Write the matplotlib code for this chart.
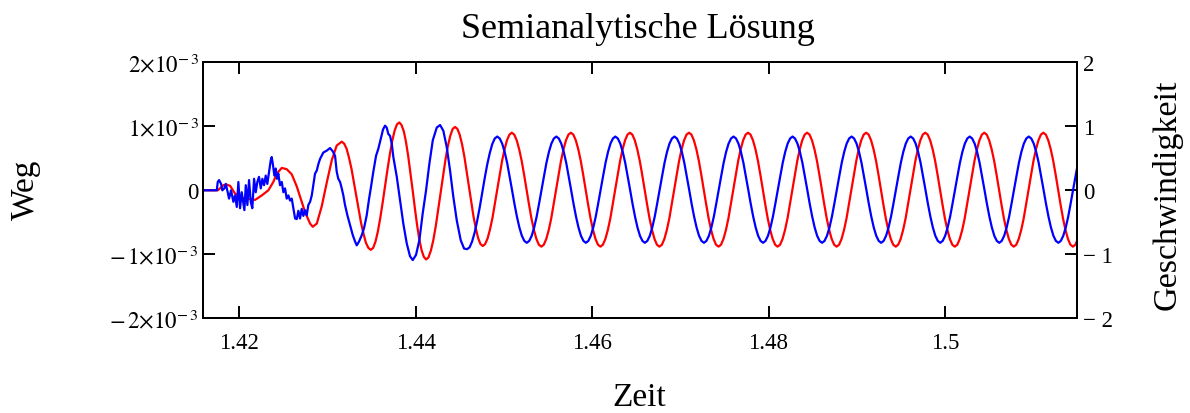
import numpy as np
import matplotlib
matplotlib.use("Agg")
import matplotlib.pyplot as plt

# Semianalytische Loesung: Weg (rot, links) und Geschwindigkeit (blau, rechts)
# Zeiten in ms, Weg in 1e-3 Einheiten, alles

weg_t_ms = [
    1415.88, 1417.55, 1417.81, 1418.19, 1418.55, 1418.95, 1419.51, 1420.27, 1421.02, 1421.78,
    1422.54, 1423.29, 1423.85, 1424.24, 1424.81, 1425.37, 1425.94, 1426.51, 1427.07, 1427.45,
    1428.02, 1428.32, 1428.78, 1429.34, 1429.91, 1430.48, 1431.04, 1431.61,
    1431.88, 1432.16, 1432.43, 1432.71, 1432.98, 1433.26, 1433.53, 1433.80, 1434.08, 1434.35, 1434.63, 1434.90,
    1435.17, 1435.44, 1435.71, 1435.98, 1436.25, 1436.52, 1436.79, 1437.06, 1437.33, 1437.60, 1437.87, 1438.14,
    1438.39, 1438.65, 1438.90, 1439.15, 1439.40, 1439.66, 1439.91, 1440.16, 1440.41, 1440.67, 1440.92, 1441.17,
    1441.44, 1441.72, 1441.99, 1442.27, 1442.54, 1442.81, 1443.09, 1443.36, 1443.64, 1443.91, 1444.19, 1444.46,
    1444.72, 1444.98, 1445.25, 1445.51, 1445.77, 1446.03, 1446.29, 1446.55, 1446.82, 1447.08, 1447.34, 1447.60,
    1447.87, 1448.15, 1448.42, 1448.70, 1448.97, 1449.24, 1449.52, 1449.79, 1450.07, 1450.34, 1450.62, 1450.89,
    1451.17, 1451.45, 1451.73, 1452.01, 1452.29, 1452.56, 1452.84, 1453.12, 1453.40, 1453.68, 1453.96, 1454.24,
    1454.52, 1454.80, 1455.08, 1455.36, 1455.63, 1455.91, 1456.19, 1456.47, 1456.75, 1457.03, 1457.31, 1457.59,
    1457.87, 1458.15, 1458.43, 1458.71, 1458.99, 1459.26, 1459.54, 1459.82, 1460.10, 1460.38, 1460.66, 1460.94,
    1461.22, 1461.50, 1461.78, 1462.06, 1462.33, 1462.61, 1462.89, 1463.17, 1463.45, 1463.73, 1464.01, 1464.28,
    1464.56, 1464.84, 1465.12, 1465.40, 1465.68, 1465.95, 1466.23, 1466.51, 1466.79, 1467.07, 1467.35, 1467.63,
    1467.91, 1468.19, 1468.47, 1468.75, 1469.02, 1469.30, 1469.58, 1469.86, 1470.14, 1470.42, 1470.70, 1470.98,
    1471.26, 1471.54, 1471.82, 1472.10, 1472.38, 1472.65, 1472.93, 1473.21, 1473.49, 1473.77, 1474.05, 1474.33,
    1474.61, 1474.89, 1475.17, 1475.45, 1475.72, 1476.00, 1476.28, 1476.56, 1476.84, 1477.12, 1477.40, 1477.68,
    1477.96, 1478.24, 1478.52, 1478.80, 1479.08, 1479.35, 1479.63, 1479.91, 1480.19, 1480.47, 1480.75, 1481.03,
    1481.31, 1481.59, 1481.87, 1482.15, 1482.42, 1482.70, 1482.98, 1483.26, 1483.54, 1483.82, 1484.10, 1484.37,
    1484.65, 1484.93, 1485.21, 1485.49, 1485.77, 1486.04, 1486.32, 1486.60, 1486.88, 1487.16, 1487.44, 1487.72,
    1488.00, 1488.28, 1488.56, 1488.84, 1489.11, 1489.39, 1489.67, 1489.95, 1490.23, 1490.51, 1490.79, 1491.07,
    1491.35, 1491.63, 1491.91, 1492.19, 1492.47, 1492.74, 1493.02, 1493.30, 1493.58, 1493.86, 1494.14, 1494.42,
    1494.70, 1494.98, 1495.26, 1495.54, 1495.81, 1496.09, 1496.37, 1496.65, 1496.93, 1497.21, 1497.49, 1497.77,
    1498.05, 1498.33, 1498.61, 1498.89, 1499.17, 1499.44, 1499.72, 1500.00, 1500.28, 1500.56, 1500.84, 1501.12,
    1501.40, 1501.68, 1501.96, 1502.24, 1502.51, 1502.79, 1503.07, 1503.35, 1503.63, 1503.91, 1504.19, 1504.46,
    1504.74, 1505.02, 1505.30, 1505.58, 1505.86, 1506.13, 1506.41, 1506.69, 1506.97, 1507.25, 1507.53, 1507.81,
    1508.09, 1508.37, 1508.65, 1508.93, 1509.20, 1509.48, 1509.76, 1510.04, 1510.32, 1510.60, 1510.88, 1511.16,
    1511.44, 1511.72, 1512.00, 1512.28, 1512.56, 1512.83, 1513.11, 1513.39, 1513.67, 1513.95, 1514.23, 1514.51,
    1514.79, 1515.01,
]
weg_e3 = [
    0.00, 0.00, 0.03, 0.08, 0.09, 0.07, -0.05, -0.12, -0.13, -0.15,
    -0.08, 0.00, 0.13, 0.26, 0.35, 0.33, 0.25, 0.06, -0.18, -0.34,
    -0.52, -0.57, -0.52, -0.25, 0.12, 0.47, 0.70, 0.76,
    0.73, 0.65, 0.51, 0.34, 0.13, -0.09, -0.30, -0.51, -0.68, -0.82, -0.90, -0.93,
    -0.90, -0.80, -0.64, -0.43, -0.19, 0.07, 0.32, 0.56, 0.77, 0.93, 1.03, 1.06,
    1.02, 0.92, 0.75, 0.53, 0.27, -0.01, -0.29, -0.55, -0.77, -0.94, -1.04, -1.08,
    -1.05, -0.94, -0.78, -0.56, -0.31, -0.05, 0.22, 0.47, 0.69, 0.85, 0.96, 0.99,
    0.96, 0.87, 0.72, 0.53, 0.30, 0.06, -0.18, -0.41, -0.60, -0.75, -0.84, -0.87,
    -0.84, -0.75, -0.61, -0.43, -0.21, 0.02, 0.24, 0.46, 0.64, 0.78, 0.87, 0.90,
    0.87, 0.78, 0.64, 0.46, 0.24, 0.01, -0.22, -0.44, -0.62, -0.76, -0.85, -0.88,
    -0.85, -0.76, -0.62, -0.44, -0.22, 0.01, 0.24, 0.46, 0.64, 0.78, 0.87, 0.90,
    0.87, 0.78, 0.64, 0.46, 0.24, 0.01, -0.22, -0.44, -0.62, -0.76, -0.85, -0.88,
    -0.85, -0.76, -0.62, -0.44, -0.22, 0.01, 0.24, 0.46, 0.64, 0.78, 0.87, 0.90,
    0.87, 0.78, 0.64, 0.46, 0.24, 0.01, -0.22, -0.44, -0.62, -0.76, -0.85, -0.88,
    -0.85, -0.76, -0.62, -0.44, -0.22, 0.01, 0.24, 0.46, 0.64, 0.78, 0.87, 0.90,
    0.87, 0.78, 0.64, 0.46, 0.24, 0.01, -0.22, -0.44, -0.62, -0.76, -0.85, -0.88,
    -0.85, -0.76, -0.62, -0.44, -0.22, 0.01, 0.24, 0.46, 0.64, 0.78, 0.87, 0.90,
    0.87, 0.78, 0.64, 0.46, 0.24, 0.01, -0.22, -0.44, -0.62, -0.76, -0.85, -0.88,
    -0.85, -0.76, -0.62, -0.44, -0.22, 0.01, 0.24, 0.46, 0.64, 0.78, 0.87, 0.90,
    0.87, 0.78, 0.64, 0.46, 0.24, 0.01, -0.22, -0.44, -0.62, -0.76, -0.85, -0.88,
    -0.85, -0.76, -0.62, -0.44, -0.22, 0.01, 0.24, 0.46, 0.64, 0.78, 0.87, 0.90,
    0.87, 0.78, 0.64, 0.46, 0.24, 0.01, -0.22, -0.44, -0.62, -0.76, -0.85, -0.88,
    -0.85, -0.76, -0.62, -0.44, -0.22, 0.01, 0.24, 0.46, 0.64, 0.78, 0.87, 0.90,
    0.87, 0.78, 0.64, 0.46, 0.24, 0.01, -0.22, -0.44, -0.62, -0.76, -0.85, -0.88,
    -0.85, -0.76, -0.62, -0.44, -0.22, 0.01, 0.24, 0.46, 0.64, 0.78, 0.87, 0.90,
    0.87, 0.78, 0.64, 0.46, 0.24, 0.01, -0.22, -0.44, -0.62, -0.76, -0.85, -0.88,
    -0.85, -0.76, -0.62, -0.44, -0.22, 0.01, 0.24, 0.46, 0.64, 0.78, 0.87, 0.90,
    0.87, 0.78, 0.64, 0.46, 0.24, 0.01, -0.22, -0.44, -0.62, -0.76, -0.85, -0.88,
    -0.85, -0.78,
]

geschw_t_ms = [
    1415.88, 1417.44, 1417.55, 1417.70, 1417.93, 1418.07, 1418.30, 1418.46, 1418.68, 1418.83,
    1419.06, 1419.32, 1419.51, 1419.71, 1419.89, 1420.08, 1420.27, 1420.57, 1420.73, 1420.91,
    1421.10, 1421.29, 1421.47, 1421.67, 1421.86, 1422.04, 1422.23, 1422.43, 1422.61, 1422.80,
    1422.99, 1423.17, 1423.37, 1423.56, 1423.67, 1423.82, 1423.97, 1424.13, 1424.27, 1424.42,
    1424.61, 1424.81, 1424.99, 1425.18, 1425.37, 1425.56, 1425.75, 1425.94, 1426.12, 1426.32,
    1426.51, 1426.69, 1426.88, 1427.07, 1427.26, 1427.45, 1427.64, 1427.82, 1428.02, 1428.21,
    1428.39, 1428.58, 1428.78, 1428.96, 1429.15, 1429.34, 1429.52, 1429.91, 1430.28, 1430.59,
    1430.85, 1431.04, 1431.22, 1431.42, 1431.61, 1431.79, 1431.98, 1432.25, 1432.55, 1432.86,
    1433.12, 1433.31, 1433.57, 1433.88, 1434.14, 1434.44, 1434.71, 1434.90, 1435.19, 1435.50,
    1435.76, 1436.03, 1436.29, 1436.52, 1436.71, 1436.89, 1437.09, 1437.28, 1437.46, 1437.85,
    1438.22, 1438.59, 1438.98, 1439.35, 1439.66, 1440.03, 1440.41, 1440.79, 1441.17, 1441.54,
    1441.93, 1442.38, 1442.76, 1443.13, 1443.52, 1443.89, 1444.26, 1444.65, 1445.10, 1445.48,
    1445.82,
    1446.11, 1446.39, 1446.68, 1446.96, 1447.25, 1447.53, 1447.82, 1448.10, 1448.39, 1448.67, 1448.96, 1449.24,
    1449.52, 1449.80, 1450.08, 1450.36, 1450.64, 1450.91, 1451.19, 1451.47, 1451.75, 1452.03, 1452.31, 1452.59,
    1452.87, 1453.15, 1453.43, 1453.71, 1453.98, 1454.26, 1454.54, 1454.82, 1455.10, 1455.38, 1455.66, 1455.94,
    1456.22, 1456.50, 1456.78, 1457.06, 1457.34, 1457.61, 1457.89, 1458.17, 1458.45, 1458.73, 1459.01, 1459.29,
    1459.57, 1459.85, 1460.13, 1460.41, 1460.68, 1460.96, 1461.24, 1461.52, 1461.80, 1462.08, 1462.36, 1462.63,
    1462.91, 1463.19, 1463.47, 1463.75, 1464.03, 1464.30, 1464.58, 1464.86, 1465.14, 1465.42, 1465.70, 1465.98,
    1466.26, 1466.54, 1466.82, 1467.10, 1467.37, 1467.65, 1467.93, 1468.21, 1468.49, 1468.77, 1469.05, 1469.33,
    1469.61, 1469.89, 1470.17, 1470.45, 1470.73, 1471.00, 1471.28, 1471.56, 1471.84, 1472.12, 1472.40, 1472.68,
    1472.96, 1473.24, 1473.52, 1473.80, 1474.07, 1474.35, 1474.63, 1474.91, 1475.19, 1475.47, 1475.75, 1476.03,
    1476.31, 1476.59, 1476.87, 1477.15, 1477.43, 1477.70, 1477.98, 1478.26, 1478.54, 1478.82, 1479.10, 1479.38,
    1479.66, 1479.94, 1480.22, 1480.50, 1480.77, 1481.05, 1481.33, 1481.61, 1481.89, 1482.17, 1482.45, 1482.72,
    1483.00, 1483.28, 1483.56, 1483.84, 1484.12, 1484.39, 1484.67, 1484.95, 1485.23, 1485.51, 1485.79, 1486.07,
    1486.35, 1486.63, 1486.91, 1487.19, 1487.46, 1487.74, 1488.02, 1488.30, 1488.58, 1488.86, 1489.14, 1489.42,
    1489.70, 1489.98, 1490.26, 1490.54, 1490.82, 1491.09, 1491.37, 1491.65, 1491.93, 1492.21, 1492.49, 1492.77,
    1493.05, 1493.33, 1493.61, 1493.89, 1494.16, 1494.44, 1494.72, 1495.00, 1495.28, 1495.56, 1495.84, 1496.12,
    1496.40, 1496.68, 1496.96, 1497.24, 1497.52, 1497.79, 1498.07, 1498.35, 1498.63, 1498.91, 1499.19, 1499.47,
    1499.75, 1500.03, 1500.31, 1500.59, 1500.86, 1501.14, 1501.42, 1501.70, 1501.98, 1502.26, 1502.54, 1502.81,
    1503.09, 1503.37, 1503.65, 1503.93, 1504.21, 1504.48, 1504.76, 1505.04, 1505.32, 1505.60, 1505.88, 1506.16,
    1506.44, 1506.72, 1507.00, 1507.28, 1507.55, 1507.83, 1508.11, 1508.39, 1508.67, 1508.95, 1509.23, 1509.51,
    1509.79, 1510.07, 1510.35, 1510.63, 1510.91, 1511.18, 1511.46, 1511.74, 1512.02, 1512.30, 1512.58, 1512.86,
    1513.14, 1513.42, 1513.70, 1513.98, 1514.25, 1514.53, 1514.81, 1515.01,
]
geschw = [
    0.00, 0.00, 0.13, 0.16, 0.10, 0.00, 0.03, 0.10, -0.03, -0.13,
    0.00, -0.18, -0.08, -0.26, 0.13, -0.28, -0.03, -0.31, 0.08, -0.23,
    0.16, -0.18, -0.28, 0.18, -0.03, 0.13, 0.21, 0.03, 0.18, 0.08,
    0.23, 0.10, 0.29, 0.47, 0.52, 0.39, 0.23, 0.34, 0.18, 0.26,
    0.08, 0.13, -0.03, 0.03, -0.13, -0.08, -0.16, -0.13, -0.28, -0.44,
    -0.45, -0.32, -0.44, -0.29, -0.40, -0.31, -0.39, -0.23, -0.18, -0.08,
    0.08, 0.26, 0.31, 0.41, 0.49, 0.54, 0.59, 0.62, 0.66, 0.61,
    0.54, 0.29, 0.18, 0.13, 0.03, -0.08, -0.23, -0.39, -0.54, -0.70,
    -0.80, -0.86, -0.80, -0.70, -0.59, -0.39, -0.13, 0.03, 0.29, 0.54,
    0.65, 0.80, 0.95, 1.01, 0.98, 0.88, 0.85, 0.73, 0.52, 0.21,
    -0.16, -0.52, -0.83, -1.03, -1.09, -1.01, -0.78, -0.36, 0.00, 0.41,
    0.78, 0.98, 1.02, 0.93, 0.67, 0.31, -0.10, -0.47, -0.78, -0.91,
    -0.92,
    -0.89, -0.80, -0.66, -0.48, -0.27, -0.04, 0.19, 0.40, 0.58, 0.72, 0.81, 0.84,
    0.81, 0.73, 0.60, 0.43, 0.22, 0.01, -0.21, -0.41, -0.58, -0.71, -0.79, -0.82,
    -0.79, -0.71, -0.58, -0.41, -0.21, 0.01, 0.22, 0.43, 0.60, 0.73, 0.81, 0.84,
    0.81, 0.73, 0.60, 0.43, 0.22, 0.01, -0.21, -0.41, -0.58, -0.71, -0.79, -0.82,
    -0.79, -0.71, -0.58, -0.41, -0.21, 0.01, 0.22, 0.43, 0.60, 0.73, 0.81, 0.84,
    0.81, 0.73, 0.60, 0.43, 0.22, 0.01, -0.21, -0.41, -0.58, -0.71, -0.79, -0.82,
    -0.79, -0.71, -0.58, -0.41, -0.21, 0.01, 0.22, 0.43, 0.60, 0.73, 0.81, 0.84,
    0.81, 0.73, 0.60, 0.43, 0.22, 0.01, -0.21, -0.41, -0.58, -0.71, -0.79, -0.82,
    -0.79, -0.71, -0.58, -0.41, -0.21, 0.01, 0.22, 0.43, 0.60, 0.73, 0.81, 0.84,
    0.81, 0.73, 0.60, 0.43, 0.22, 0.01, -0.21, -0.41, -0.58, -0.71, -0.79, -0.82,
    -0.79, -0.71, -0.58, -0.41, -0.21, 0.01, 0.22, 0.43, 0.60, 0.73, 0.81, 0.84,
    0.81, 0.73, 0.60, 0.43, 0.22, 0.01, -0.21, -0.41, -0.58, -0.71, -0.79, -0.82,
    -0.79, -0.71, -0.58, -0.41, -0.21, 0.01, 0.22, 0.43, 0.60, 0.73, 0.81, 0.84,
    0.81, 0.73, 0.60, 0.43, 0.22, 0.01, -0.21, -0.41, -0.58, -0.71, -0.79, -0.82,
    -0.79, -0.71, -0.58, -0.41, -0.21, 0.01, 0.22, 0.43, 0.60, 0.73, 0.81, 0.84,
    0.81, 0.73, 0.60, 0.43, 0.22, 0.01, -0.21, -0.41, -0.58, -0.71, -0.79, -0.82,
    -0.79, -0.71, -0.58, -0.41, -0.21, 0.01, 0.22, 0.43, 0.60, 0.73, 0.81, 0.84,
    0.81, 0.73, 0.60, 0.43, 0.22, 0.01, -0.21, -0.41, -0.58, -0.71, -0.79, -0.82,
    -0.79, -0.71, -0.58, -0.41, -0.21, 0.01, 0.22, 0.43, 0.60, 0.73, 0.81, 0.84,
    0.81, 0.73, 0.60, 0.43, 0.22, 0.01, -0.21, -0.41, -0.58, -0.71, -0.79, -0.82,
    -0.79, -0.71, -0.58, -0.41, -0.21, 0.01, 0.22, 0.37,
]

x_ticks = [1.42, 1.44, 1.46, 1.48, 1.50]
x_labels = ["1.42", "1.44", "1.46", "1.48", "1.5"]
weg_ticks = [-2e-3, -1e-3, 0, 1e-3, 2e-3]
weg_labels = [r"$-\,2{\times}10^{-\,3}$", r"$-\,1{\times}10^{-\,3}$", "0",
              r"$1{\times}10^{-\,3}$", r"$2{\times}10^{-\,3}$"]
geschw_ticks = [-2, -1, 0, 1, 2]
geschw_labels = ["\u2212 2", "\u2212 1", "0", "1", "2"]

plt.rcParams["font.family"] = ["Liberation Serif", "DejaVu Serif"]
plt.rcParams["mathtext.fontset"] = "stix"

fig = plt.figure(figsize=(11.9, 4.14), dpi=100)
ax = fig.add_axes([0.1706, 0.2287, 0.7347, 0.6184])

t_weg = np.array(weg_t_ms) / 1000.0
t_geschw = np.array(geschw_t_ms) / 1000.0

ax.plot(t_weg, np.array(weg_e3) * 1e-3, color="#ff0000", lw=1.6)
ax.set_xlim(1.41588, 1.51501)
ax.set_ylim(-2e-3, 2e-3)
ax.set_xticks(x_ticks)
ax.set_xticklabels(x_labels)
ax.set_yticks(weg_ticks)
ax.set_yticklabels(weg_labels)

ax2 = ax.twinx()
ax2.plot(t_geschw, geschw, color="#0000ff", lw=1.6)
ax2.set_ylim(-2, 2)
ax2.set_yticks(geschw_ticks)
ax2.set_yticklabels(geschw_labels)

ax.tick_params(axis="x", direction="in", top=True, length=8.5, width=1.4, labelsize=16.5, pad=10)
ax.tick_params(axis="y", direction="in", length=8.5, width=1.4, labelsize=16.5, pad=3)
ax2.tick_params(axis="y", direction="in", length=8.5, width=1.4, labelsize=16.5, pad=4)
for a in (ax, ax2):
    for sp in a.spines.values():
        sp.set_linewidth(1.4)

fig.text(638 / 1190, 1 - 30 / 414, "Semianalytische Lösung", ha="center", va="center", fontsize=26)
fig.text(26 / 1190, 1 - 190 / 414, "Weg", rotation=90, ha="center", va="center", fontsize=24)
fig.text(1167 / 1190, 1 - 195 / 414, "Geschwindigkeit", rotation=90, ha="center", va="center", fontsize=24.5)
fig.text(639 / 1190, 1 - 406 / 414, "Zeit", ha="center", va="baseline", fontsize=24)

fig.savefig("out.png", dpi=100)
